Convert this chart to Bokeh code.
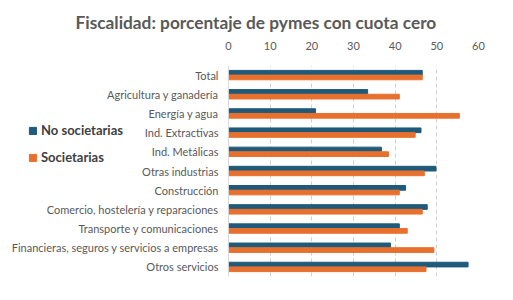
from bokeh.plotting import figure
from bokeh.models import ColumnDataSource, FactorRange, Range1d, Legend, LegendItem, Title, FixedTicker, Span
from bokeh.core.properties import value
from bokeh.transform import dodge
from bokeh.embed import file_html
from bokeh.resources import INLINE

categorias = [
    "Total",
    "Agricultura y ganadería",
    "Energía y agua",
    "Ind. Extractivas",
    "Ind. Metálicas",
    "Otras industrias",
    "Construcción",
    "Comercio, hostelería y reparaciones",
    "Transporte y comunicaciones",
    "Financieras, seguros y servicios a empresas",
    "Otros servicios",
]
no_societarias = [46.5, 33.4, 20.9, 46.2, 36.7, 49.8, 42.5, 47.7, 41.0, 38.9, 57.5]
societarias = [46.5, 41.0, 55.4, 44.8, 38.4, 47.0, 41.0, 46.5, 42.9, 49.3, 47.4]
ticks = [0, 10, 20, 30, 40, 50, 60]

BLUE = "#1F5A7A"
ORANGE = "#E8702E"
GRAY = "#595959"

src = ColumnDataSource(dict(cat=categorias, ns=no_societarias, s=societarias,
                            lx=[-2.4] * len(categorias)))

p = figure(
    width=505, height=292,
    y_range=FactorRange(factors=list(reversed(categorias)), range_padding=0),
    x_range=Range1d(-54.7, 60),
    x_axis_location="above",
    output_backend="svg", toolbar_location=None,
    min_border_left=0, min_border_right=27, min_border_top=65, min_border_bottom=16,
)

r1 = p.hbar(y=dodge("cat", 0.122, range=p.y_range), right="ns", left=0, height=0.245,
            source=src, color=BLUE)
r2 = p.hbar(y=dodge("cat", -0.122, range=p.y_range), right="s", left=0, height=0.245,
            source=src, color=ORANGE)

p.text(x="lx", y="cat", text="cat", source=src, text_align="right", text_baseline="middle",
       text_font=value("Lato"), text_font_size="11px", text_color=GRAY)

p.add_layout(Span(location=0, dimension="height", line_color="#D9D9D9", line_width=1))

p.title = Title(text="Fiscalidad: porcentaje de pymes con cuota cero", align="left",
                text_font="Lato", text_font_size="17.3px", text_font_style="bold",
                text_color=GRAY, offset=75, standoff=12)

p.outline_line_color = None
p.yaxis.visible = False
p.ygrid.grid_line_color = None
p.xgrid.grid_line_color = "#D0D0D0"
p.xgrid.grid_line_dash = "4 3"
p.xgrid.ticker = FixedTicker(ticks=ticks[1:])

xa = p.xaxis[0]
xa.ticker = FixedTicker(ticks=ticks)
xa.axis_line_color = None
xa.major_tick_line_color = None
xa.minor_tick_line_color = None
xa.major_label_text_font = "Lato"
xa.major_label_text_font_size = "11px"
xa.major_label_text_color = GRAY
xa.major_label_standoff = 10

legend = Legend(
    items=[LegendItem(label="No societarias", renderers=[r1]),
           LegendItem(label="Societarias", renderers=[r2])],
    location=(28, 111),
    glyph_width=9, glyph_height=9, label_height=14, spacing=11,
    padding=0, margin=0, border_line_color=None, background_fill_alpha=0,
    label_text_font="Lato", label_text_font_size="13px", label_text_font_style="bold",
    label_text_color="#404040", label_standoff=4,
)
p.add_layout(legend, "center")

open("out.html", "w").write(file_html(p, INLINE))
